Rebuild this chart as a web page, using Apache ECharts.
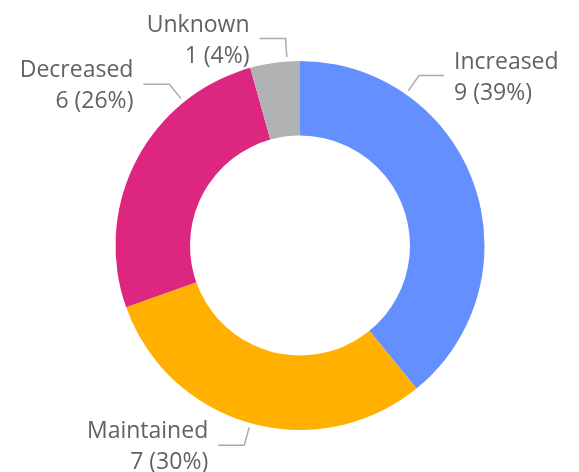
<!DOCTYPE html>
<html><head><meta charset="utf-8">
<script src="https://cdn.jsdelivr.net/npm/echarts@6/dist/echarts.min.js"></script>
<style>html,body{margin:0;padding:0;background:#fff}#c{width:579px;height:472px}</style>
</head><body><div id="c"></div>
<script>
const categories = ['Increased', 'Maintained', 'Decreased', 'Unknown'];
const counts = [9, 7, 6, 1];
const colors = ['#648FFF', '#FFB000', '#DC267F', '#B1B2B4'];
// label anchor angles (deg clockwise from 12 o'clock) - layout styling only
const labelAngles = [35, 195.6, 321, 356];
const CX = 300, CY = 245.5, R_IN = 110, R_OUT = 184.5;
const chart = echarts.init(document.getElementById('c'));
chart.setOption({
  animation: false,
  series: [{
    type: 'pie',
    center: [CX, CY],
    radius: [R_IN, R_OUT],
    startAngle: 90,
    clockwise: true,
    data: categories.map((n, i) => ({ name: n, value: counts[i], itemStyle: { color: colors[i] } })),
    label: {
      formatter: p => p.name + '\n' + p.value + ' (' + Math.round(p.percent) + '%)',
      fontFamily: 'Open Sans', fontSize: 23, lineHeight: 31, color: '#626262',
      overflow: 'none'
    },
    labelLine: { show: true, lineStyle: { color: '#aaa', width: 1.5 } },
    emphasis: { disabled: true },
    labelLayout: function (p) {
      const i = p.dataIndex;
      const a = labelAngles[i] * Math.PI / 180;
      const dx = Math.sin(a), dy = -Math.cos(a);
      const r0 = R_OUT + 4.5, r1 = r0 + 18.5;
      const p0 = [CX + dx * r0, CY + dy * r0], p1 = [CX + dx * r1, CY + dy * r1];
      const right = dx >= 0;
      const p2 = [p1[0] + (right ? 25 : -26), p1[1]];
      return {
        x: p2[0] + (right ? 10 : -10), y: p2[1] + 2,
        align: right ? 'left' : 'right', verticalAlign: 'middle',
        width: 200,
        labelLinePoints: [p0, p1, p2]
      };
    }
  }]
});
</script></body></html>
